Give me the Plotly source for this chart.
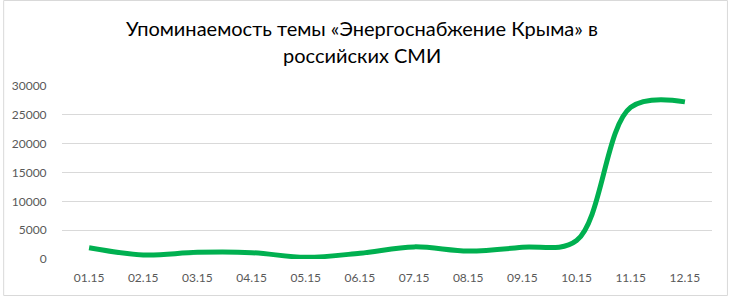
import plotly.graph_objects as go

months = ["01.15", "02.15", "03.15", "04.15", "05.15", "06.15",
          "07.15", "08.15", "09.15", "10.15", "11.15", "12.15"]
mentions = [1950, 700, 1150, 1100, 300, 1000, 2100, 1400, 2050, 3200, 26300, 27250]
y_ticks = [0, 5000, 10000, 15000, 20000, 25000, 30000]
title_lines = ["Упоминаемость темы «Энергоснабжение Крыма» в", "российских СМИ"]

W, H = 730, 297
L, R, T, B = 60, 18, 86, 38
pw, ph = W - L - R, H - T - B

fig = go.Figure()
fig.add_trace(go.Scatter(
    x=months, y=mentions, mode="lines",
    line=dict(color="#00B050", width=5, shape="spline", smoothing=1.0),
    hoverinfo="x+y",
))

tick_font = dict(family="Lato, Noto Sans, sans-serif", size=12, color="#595959")

fig.update_layout(
    width=W, height=H,
    margin=dict(l=L, r=R, t=T, b=B),
    paper_bgcolor="white", plot_bgcolor="white",
    showlegend=False,
    xaxis=dict(
        type="category", range=[-0.5, len(months) - 0.5],
        showgrid=False, showline=False, zeroline=False,
        ticks="outside", ticklen=8, tickcolor="rgba(0,0,0,0)",
        tickfont=tick_font, fixedrange=True,
    ),
    yaxis=dict(
        range=[0, 30000], tickvals=y_ticks, ticktext=[str(v) for v in y_ticks],
        showgrid=True, gridcolor="#D9D9D9", gridwidth=1,
        zeroline=False, showline=False,
        ticks="outside", ticklen=12, tickcolor="rgba(0,0,0,0)",
        tickfont=tick_font, fixedrange=True,
    ),
)

title_font = dict(family="Lato, Noto Sans, sans-serif", size=20, color="#000000")
cx = (361 - L) / pw
for txt, cy in zip(title_lines, [28, 55]):
    fig.add_annotation(
        text=txt, xref="paper", yref="paper",
        x=cx, y=(H - B - cy) / ph, xanchor="center", yanchor="middle",
        showarrow=False, font=title_font,
    )

# chart-area border
fig.add_shape(
    type="rect", xref="paper", yref="paper",
    x0=(1.5 - L) / pw, x1=(727.5 - L) / pw,
    y0=(H - B - 295.5) / ph, y1=(H - B - 0.5) / ph,
    line=dict(color="#D9D9D9", width=1), fillcolor="rgba(0,0,0,0)", layer="below",
)

fig.write_html("out.html", config={"displayModeBar": False})
